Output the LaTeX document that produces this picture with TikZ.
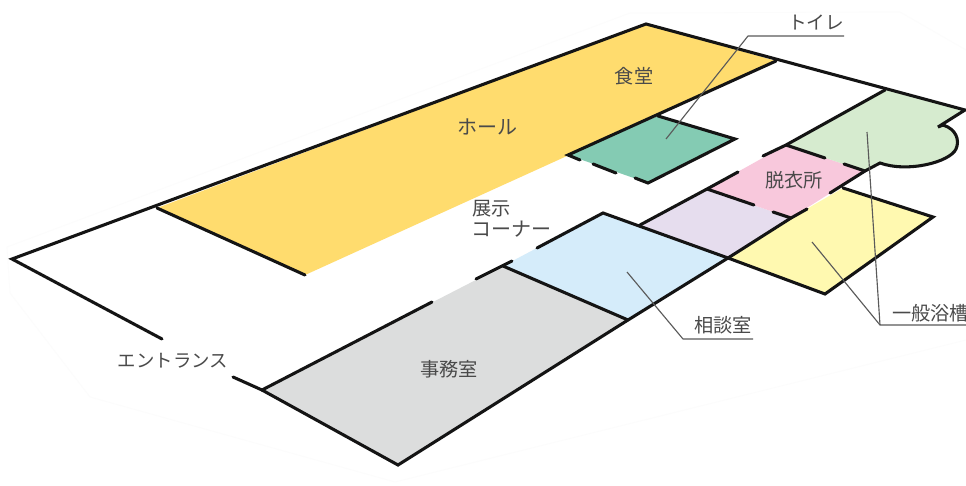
\documentclass[tikz,border=0pt]{standalone}
\usepackage{fontspec}
\setmainfont{Noto Sans CJK JP}
\definecolor{hallc}{HTML}{FFDC6E}
\definecolor{toiletc}{HTML}{84CBB3}
\definecolor{pinkc}{HTML}{F8C8DC}
\definecolor{greenc}{HTML}{D6EBCF}
\definecolor{lilacc}{HTML}{E6DDEE}
\definecolor{yellowc}{HTML}{FFF9B0}
\definecolor{bluec}{HTML}{D5ECFA}
\definecolor{grayc}{HTML}{DCDDDD}
\definecolor{labelc}{HTML}{4A4A4A}
\definecolor{leaderc}{HTML}{5A5A5A}
\tikzset{
  wall/.style={draw=black!92,line width=2.3pt,line cap=round,line join=miter},
  leader/.style={draw=leaderc,line width=0.85pt,line join=round},
  lbl/.style={text=labelc,font=\fontsize{14.4pt}{17pt}\selectfont,inner sep=0pt,outer sep=0pt},
  kana/.style={text=labelc,font=\fontsize{15pt}{17pt}\selectfont,inner sep=0pt,outer sep=0pt},
  faint/.style={draw=black!1.2,line width=0.6pt}
}
\begin{document}
\begin{tikzpicture}[x=0.75pt,y=-0.75pt]
\clip (0,0) rectangle (966,485);
\fill[white] (0,0) rectangle (966,485);
% faint outline of the original cut-out
\draw[faint] (7,247) -- (630,13) -- (900,12) -- (966,50)
  (10,293) -- (90,397) -- (395,482) -- (966,340) (7,247) -- (10,293);

% corner points
\coordinate (outerW) at (12,259);
\coordinate (outerN) at (646,24);
\coordinate (outerE) at (965,110);
\coordinate (hallNW) at (157,208);
\coordinate (hallNE) at (776,61);
\coordinate (hallS) at (305,275);
\coordinate (wcW) at (568,155);
\coordinate (wcN) at (658,116);
\coordinate (wcE) at (735,139);
\coordinate (wcS) at (648,183);
\coordinate (bathN) at (885,90);
\coordinate (bathA) at (938,127);
\coordinate (bathB) at (880,163);
\coordinate (pinkN) at (786,145);
\coordinate (pinkE) at (865,171);
\coordinate (pinkS) at (791,218);
\coordinate (pinkW) at (707,189);
\coordinate (lilacW) at (640,225);
\coordinate (mid) at (728,258);
\coordinate (blueN) at (603,213);
\coordinate (blueW) at (503,266);
\coordinate (blueS) at (628,320);
\coordinate (offW) at (262,390);
\coordinate (offS) at (398,465);
\coordinate (yelN) at (843,188);
\coordinate (yelE) at (933,217);
\coordinate (yelS) at (825,294);

% room fills
\fill[hallc] (hallNW) -- (outerN) -- (hallNE) -- (hallS) -- cycle;
\fill[toiletc] (wcW) -- (wcN) -- (wcE) -- (wcS) -- cycle;
\fill[grayc] (offW) -- (blueW) -- (blueS) -- (offS) -- cycle;
\fill[bluec] (blueW) -- (blueN) -- (mid) -- (blueS) -- cycle;
\fill[lilacc] (lilacW) -- (pinkW) -- (pinkS) -- (mid) -- cycle;
\fill[pinkc] (pinkW) -- (pinkN) -- (pinkE) -- (pinkS) -- cycle;
\fill[yellowc] (mid) -- (pinkS) -- (yelN) -- (yelE) -- (yelS) -- cycle;
\fill[greenc] (pinkN) -- (bathN) -- (outerE) -- (bathA) -- (943,125)
  .. controls (956,129) and (960,140) .. (956,149)
  .. controls (950,162) and (908,173) .. (bathB) -- (pinkE) -- cycle;

% walls
\draw[wall] (hallNW) -- (hallS);
\draw[wall] (offW) -- (offS) -- (blueS) -- (mid);
\draw[wall] (162,339) -- (outerW) -- (outerN) -- (outerE) -- (bathA) -- (943,125)
  .. controls (956,129) and (960,140) .. (956,149)
  .. controls (950,162) and (908,173) .. (bathB) -- (pinkE) -- (830,193);
\draw[wall] (233,377) -- (offW) -- (432,302);
\draw[wall] (476,279) -- (512,261);
\draw[wall] (537,248) -- (blueN) -- (mid) -- (yelS) -- (yelE) -- (yelN);
\draw[wall] (blueW) -- (blueS);
\draw[wall] (hallNE) -- (wcW) -- (580,160);
\draw[wall] (593,164) -- (616,173);
\draw[wall] (635,178) -- (wcS) -- (wcE) -- (wcN);
\draw[wall] (mid) -- (pinkS) -- (807,209);
\draw[wall] (lilacW) -- (pinkW) -- (738,172);
\draw[wall] (763,156) -- (pinkN) -- (bathN);
\draw[wall] (pinkW) -- (754,205);
\draw[wall] (773,212) -- (pinkS);
\draw[wall] (pinkN) -- (825,158);
\draw[wall] (844,164) -- (pinkE);

% leaders
\coordinate (wcEnd) at (666,139);
\coordinate (wcBend) at (748,36);
\coordinate (wcTail) at (844,36);
\coordinate (soEnd) at (627,272);
\coordinate (soBend) at (683,339);
\coordinate (soTail) at (753,339);
\coordinate (bathEnd) at (867,132);
\coordinate (yelEnd) at (812,242);
\coordinate (ipBend) at (880,325);
\coordinate (ipTail) at (970,325);
\draw[leader] (wcEnd) -- (wcBend) -- (wcTail);
\draw[leader] (soEnd) -- (soBend) -- (soTail);
\draw[leader] (bathEnd) -- (ipBend) -- (ipTail);
\draw[leader] (yelEnd) -- (ipBend);

% labels
\node[lbl] (shokudo) at (634,76) {食堂};
\node[kana] (hall) at (487,127) {ホール};
\node[lbl,anchor=west] (tenji) at (472,209) {展示};
\node[kana,anchor=west] (corner) at (471,229) {コーナー};
\node[lbl,font=\fontsize{14pt}{17pt}\selectfont] (toilet) at (816,22) {トイレ};
\node[lbl] (datsui) at (794,180) {脱衣所};
\node[lbl] (jimu) at (449,369) {事務室};
\node[lbl] (sodan) at (723,325) {相談室};
\node[lbl,anchor=west] (ippan) at (892,313) {一般浴槽};
\node[lbl,font=\fontsize{13.8pt}{17pt}\selectfont] (entrance) at (173,361) {エントランス};
\end{tikzpicture}
\end{document}
